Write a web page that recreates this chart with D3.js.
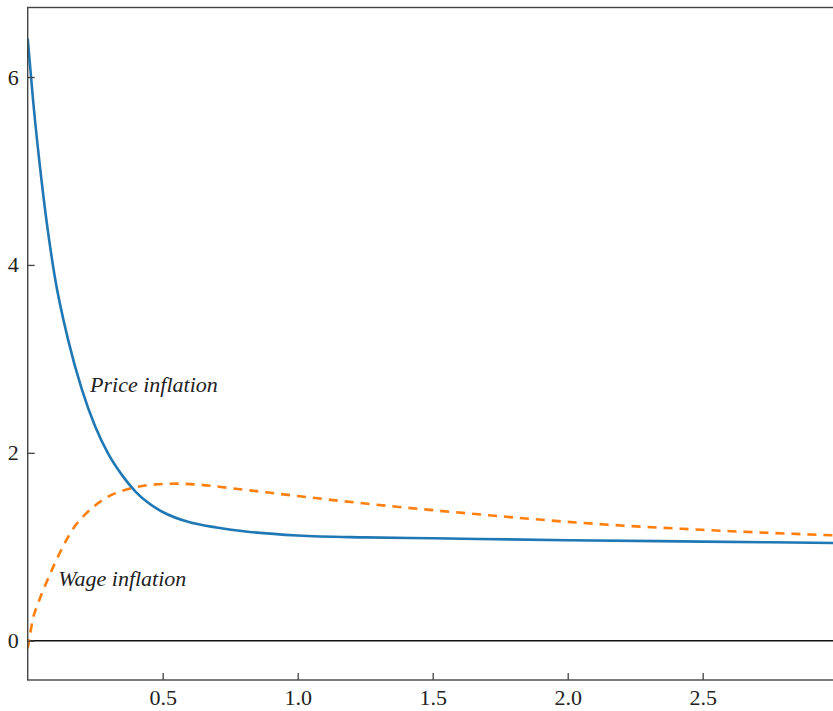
<!DOCTYPE html>
<html>
<head>
<meta charset="utf-8">
<script src="https://cdn.jsdelivr.net/npm/d3@7"></script>
<style>
  html, body { margin: 0; padding: 0; background: #fff; }
  svg { display: block; }
</style>
</head>
<body>
<svg id="chart" width="833" height="711"></svg>
<script>
// ---- data ----
const priceX = [0, 0.02, 0.05, 0.1, 0.15, 0.2, 0.25, 0.3, 0.35, 0.4, 0.45, 0.5, 0.6, 0.7, 0.8, 1.0, 1.25, 1.5, 2.0, 2.5, 3.0];
const priceY = [6.41, 5.75, 4.93, 3.88, 3.2, 2.68, 2.28, 1.98, 1.76, 1.585, 1.46, 1.37, 1.26, 1.205, 1.165, 1.12, 1.10, 1.09, 1.07, 1.055, 1.04];

const wageX = [0, 0.01, 0.02, 0.04, 0.065, 0.1, 0.13, 0.175, 0.22, 0.29, 0.38, 0.48, 0.55, 0.64, 0.75, 1.0, 1.25, 1.5, 1.75, 2.0, 2.5, 3.0];
const wageY = [-0.08, 0.09, 0.24, 0.41, 0.59, 0.82, 1.0, 1.22, 1.365, 1.52, 1.62, 1.665, 1.672, 1.66, 1.625, 1.54, 1.46, 1.39, 1.325, 1.265, 1.18, 1.12];

const xTicks = [0.5, 1.0, 1.5, 2.0, 2.5];
const yTicks = [0, 2, 4, 6];

const labels = [
  { text: "Price inflation", x: 0.231, y: 2.646 },
  { text: "Wage inflation", x: 0.113, y: 0.582 }
];

// ---- layout ----
const svg = d3.select("#chart");
const pLeft = 27.7, pRight = 837.7, pTop = 7.5, pBottom = 680;
const x = d3.scaleLinear().domain([0, 3]).range([pLeft, pRight]);
const y = d3.scaleLinear().domain([-0.418, 6.74]).range([pBottom, pTop]);

const font = "'Liberation Serif', 'Times New Roman', Times, serif";

// clip
svg.append("defs").append("clipPath").attr("id", "clip")
  .append("rect").attr("x", pLeft).attr("y", pTop).attr("width", pRight - pLeft).attr("height", pBottom - pTop);

// zero line
svg.append("line")
  .attr("x1", pLeft).attr("x2", pRight)
  .attr("y1", y(0)).attr("y2", y(0))
  .attr("stroke", "#111").attr("stroke-width", 1.4);

// curves
const line = d3.line().x(d => x(d[0])).y(d => y(d[1])).curve(d3.curveMonotoneX);
const g = svg.append("g").attr("clip-path", "url(#clip)");

g.append("path")
  .datum(wageX.map((v, i) => [v, wageY[i]]))
  .attr("d", line)
  .attr("fill", "none")
  .attr("stroke", "#ff7f0e")
  .attr("stroke-width", 2.6)
  .attr("stroke-dasharray", "9,7");

g.append("path")
  .datum(priceX.map((v, i) => [v, priceY[i]]))
  .attr("d", line)
  .attr("fill", "none")
  .attr("stroke", "#1f77b4")
  .attr("stroke-width", 2.6);

// frame
svg.append("rect")
  .attr("x", pLeft).attr("y", pTop)
  .attr("width", pRight - pLeft).attr("height", pBottom - pTop)
  .attr("fill", "none").attr("stroke", "#444").attr("stroke-width", 1.4);

// x axis (ticks pointing inward)
const xAxis = d3.axisBottom(x).tickValues(xTicks).tickFormat(d3.format(".1f")).tickSizeInner(-7).tickSizeOuter(0).tickPadding(9);
const gx = svg.append("g").attr("transform", `translate(0,${pBottom})`).call(xAxis);
gx.select(".domain").remove();
gx.selectAll(".tick line").attr("stroke", "#444").attr("stroke-width", 1.3);
gx.selectAll(".tick text").attr("font-family", font).attr("font-size", 22).attr("fill", "#222");

// y axis (ticks pointing inward)
const yAxis = d3.axisLeft(y).tickValues(yTicks).tickFormat(d3.format("d")).tickSizeInner(-7).tickSizeOuter(0).tickPadding(9);
const gy = svg.append("g").attr("transform", `translate(${pLeft},0)`).call(yAxis);
gy.select(".domain").remove();
gy.selectAll(".tick line").attr("stroke", "#444").attr("stroke-width", 1.3);
gy.selectAll(".tick text").attr("font-family", font).attr("font-size", 22).attr("fill", "#222");

// curve labels
svg.selectAll(".lbl").data(labels).enter().append("text")
  .attr("class", "lbl")
  .attr("x", d => x(d.x)).attr("y", d => y(d.y))
  .attr("font-family", font).attr("font-style", "italic").attr("font-size", 22)
  .attr("fill", "#222")
  .text(d => d.text);
</script>
</body>
</html>
